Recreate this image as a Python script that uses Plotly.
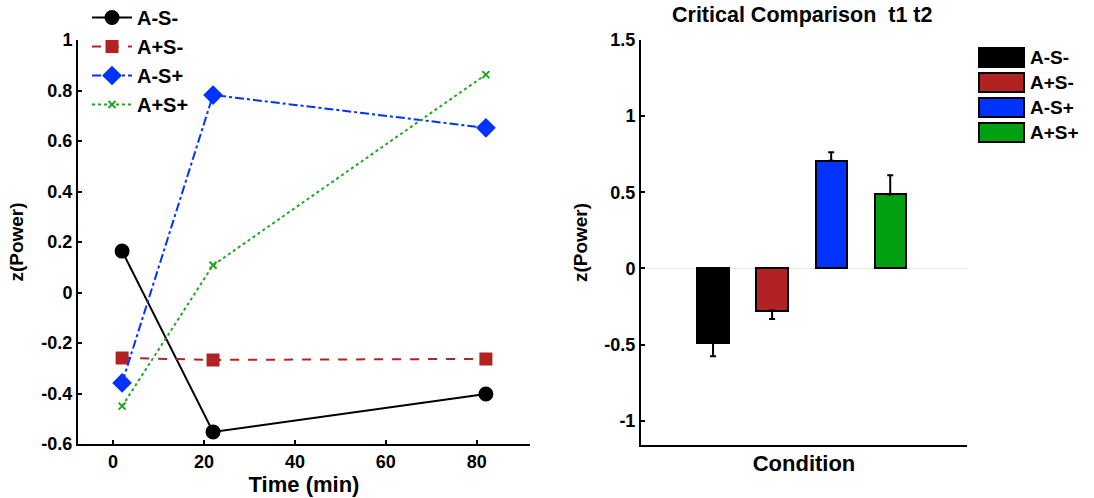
import plotly.graph_objects as go

# time course (left panel)
TIME = [2, 22, 82]
CONDITIONS = ["A-S-", "A+S-", "A-S+", "A+S+"]
COLORS = ["#000000", "#B22222", "#0033FF", "#1FA81F"]
BAR_COLORS = ["#000000", "#B22222", "#0033FF", "#00A010"]

Z_ASm_Sm = [0.164, -0.552, -0.402]
Z_APl_Sm = [-0.259, -0.267, -0.263]
Z_ASm_SPl = [-0.358, 0.782, 0.652]
Z_APl_SPl = [-0.45, 0.108, 0.863]

# critical comparison t1 t2 (right panel)
BAR_MEAN = [-0.487, -0.277, 0.707, 0.486]
BAR_ERR = [0.09, 0.055, 0.055, 0.125]

LEFT_TICKS = [-0.6, -0.4, -0.2, 0, 0.2, 0.4, 0.6, 0.8, 1]
LEFT_TICKTEXT = ["-0.6", "-0.4", "-0.2", "0", "0.2", "0.4", "0.6", "0.8", "1"]
RIGHT_TICKS = [-1, -0.5, 0, 0.5, 1, 1.5]
RIGHT_TICKTEXT = ["-1", "-0.5", "0", "0.5", "1", "1.5"]
X_TICKS = [0, 20, 40, 60, 80]

FONT = "Liberation Sans, Arial, sans-serif"
W, H = 1094, 498


def px(x):
    return x / W


def py(y):
    return 1 - y / H


fig = go.Figure()

series = [Z_ASm_Sm, Z_APl_Sm, Z_ASm_SPl, Z_APl_SPl]
dashes = ["solid", "dash", "dashdot", "dot"]
symbols = ["circle", "square", "diamond", "x-thin"]
sizes = [13, 11, 13, 7]

for name, y, col, d, sym, sz in zip(CONDITIONS, series, COLORS, dashes, symbols, sizes):
    fig.add_trace(go.Scatter(
        x=TIME, y=y, name=name, mode="lines+markers",
        line=dict(color=col, width=2, dash=d),
        marker=dict(symbol=sym, size=sz, color=col, line=dict(color=col, width=2)),
        xaxis="x", yaxis="y",
    ))

# bars, one-sided error bars (away from zero)
for i, (name, m, e, col) in enumerate(zip(CONDITIONS, BAR_MEAN, BAR_ERR, BAR_COLORS)):
    up = e if m >= 0 else 0
    down = e if m < 0 else 0
    fig.add_trace(go.Bar(
        x=[i + 1], y=[m], name=name, width=0.53,
        marker=dict(color=col, line=dict(color="black", width=2)),
        error_y=dict(type="data", symmetric=False, array=[up], arrayminus=[down],
                     color="black", thickness=2, width=3),
        xaxis="x2", yaxis="y2", showlegend=False,
    ))

# legend of the right panel drawn as boxes + labels
for i, (name, col) in enumerate(zip(CONDITIONS, BAR_COLORS)):
    top = 48 + 25 * i
    fig.add_shape(type="rect", xref="paper", yref="paper",
                  x0=px(979), x1=px(1024), y0=py(top + 19), y1=py(top),
                  fillcolor=col, line=dict(color="black", width=2))
    fig.add_annotation(xref="paper", yref="paper", x=px(1028), y=py(top + 9.5),
                       text=name, showarrow=False, xanchor="left", yanchor="middle",
                       font=dict(size=19, weight="bold", color="black", family=FONT))

fig.add_annotation(xref="paper", yref="paper", x=px(802), y=py(15),
                   text="Critical Comparison  t1 t2", showarrow=False,
                   xanchor="center", yanchor="middle",
                   font=dict(size=21.5, weight="bold", color="black", family=FONT))

axis_common = dict(showgrid=False, showline=True, linecolor="black", linewidth=2,
                   tickcolor="black", ticklen=4, tickwidth=1.5, automargin=False,
                   tickfont=dict(size=18, weight="bold", color="black", family=FONT))

fig.update_layout(
    width=W, height=H,
    margin=dict(l=0, r=0, t=0, b=0, pad=0, autoexpand=False),
    paper_bgcolor="white", plot_bgcolor="white",
    font=dict(family=FONT, color="black"),
    xaxis=dict(domain=[px(78), px(530)], range=[-7.7, 91.7],
               tickvals=X_TICKS, zeroline=False, ticks="inside",
               title=dict(text="Time (min)", font=dict(size=22, weight="bold"), standoff=2),
               anchor="y", **axis_common),
    yaxis=dict(domain=[py(444), py(40)], range=[-0.6, 1],
               tickvals=LEFT_TICKS, ticktext=LEFT_TICKTEXT, zeroline=False, ticks="inside",
               title=dict(text="z(Power)", font=dict(size=19, weight="bold"), standoff=13),
               anchor="x", **axis_common),
    xaxis2=dict(domain=[px(641), px(967)], range=[-0.22, 5.3],
                showticklabels=False, zeroline=False, ticks="",
                title=dict(text="Condition", font=dict(size=22, weight="bold"), standoff=10),
                anchor="y2", **axis_common),
    yaxis2=dict(domain=[py(445), py(40)], range=[-1.16, 1.5],
                tickvals=RIGHT_TICKS, ticktext=RIGHT_TICKTEXT, ticks="inside",
                zeroline=True, zerolinecolor="#e8e8e8", zerolinewidth=1,
                title=dict(text="z(Power)", font=dict(size=19, weight="bold"), standoff=12),
                anchor="x2", **axis_common),
    legend=dict(x=px(87), y=py(-2), xanchor="left", yanchor="top",
                bgcolor="rgba(0,0,0,0)", tracegroupgap=0, itemwidth=40,
                font=dict(size=20, weight="bold", color="black", family=FONT)),
    bargap=0,
)

# drop the browser's default body margin so the figure sits at the page corner
fig.write_html("out.html", config={"displayModeBar": False},
               post_script="document.body.style.margin = '0';")
